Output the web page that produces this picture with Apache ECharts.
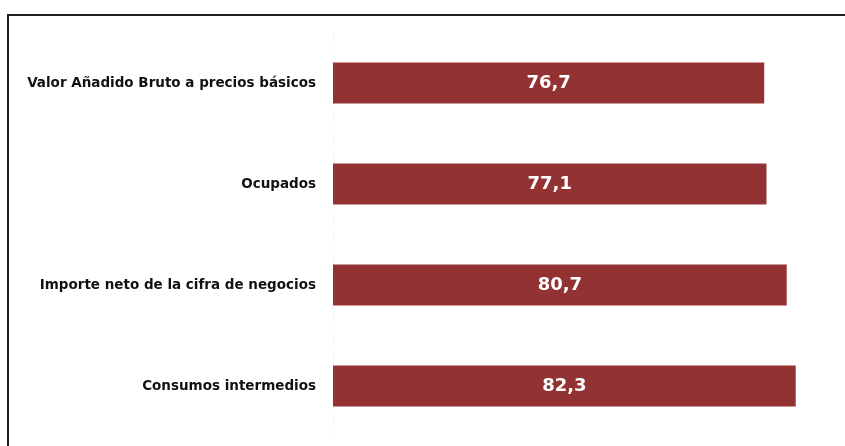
<!DOCTYPE html>
<html>
<head>
<meta charset="utf-8">
<script src="https://cdn.jsdelivr.net/npm/echarts@6/dist/echarts.min.js"></script>
<style>
  html, body { margin: 0; padding: 0; background: #fff; }
  #chart { width: 845px; height: 446px; }
</style>
</head>
<body>
<div id="chart"></div>
<script>
const categories = [
  'Valor Añadido Bruto a precios básicos',
  'Ocupados',
  'Importe neto de la cifra de negocios',
  'Consumos intermedios'
];
const values = [76.7, 77.1, 80.7, 82.3];

const chart = echarts.init(document.getElementById('chart'));

const option = {
  animation: false,
  backgroundColor: '#fff',
  graphic: [
    {
      type: 'rect',
      shape: { x: 8, y: 15, width: 850, height: 500 },
      style: { fill: 'none', stroke: '#1e1e1e', lineWidth: 2 },
      silent: true
    }
  ],
  grid: { left: 333, right: 6, top: 32.5, bottom: 9.5 },
  xAxis: {
    type: 'value',
    min: 0,
    max: 90,
    show: false
  },
  yAxis: {
    type: 'category',
    data: categories,
    inverse: true,
    axisTick: { show: false },
    axisLine: { show: true, lineStyle: { color: '#ececec', type: [1, 4], width: 1 } },
    axisLabel: {
      margin: 17,
      color: '#111',
      fontFamily: 'DejaVu Sans',
      fontWeight: 'bold',
      fontSize: 13.5
    }
  },
  series: [
    {
      type: 'bar',
      data: values,
      barWidth: 41,
      itemStyle: { color: '#933232' },
      label: {
        show: true,
        position: 'inside',
        color: '#fff',
        fontFamily: 'DejaVu Sans',
        fontWeight: 'bold',
        fontSize: 18,
        formatter: (p) => p.value.toFixed(1).replace('.', ',')
      }
    }
  ]
};

chart.setOption(option);
</script>
</body>
</html>
